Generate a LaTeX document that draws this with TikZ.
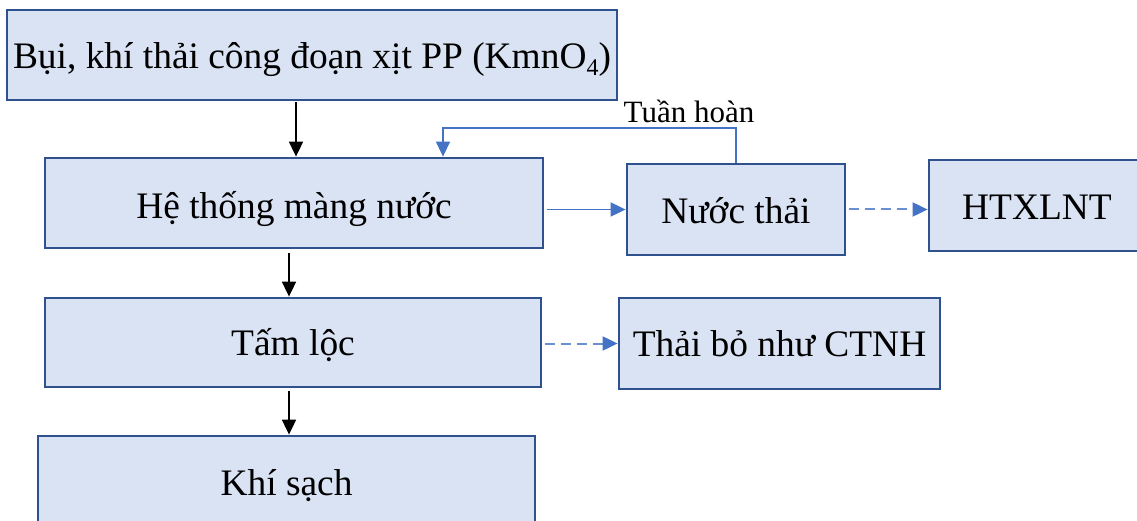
\documentclass[tikz,border=0pt]{standalone}
\usepackage{fontspec}
\setmainfont{Liberation Serif}
\usetikzlibrary{arrows.meta}
\definecolor{boxline}{HTML}{2F528F}
\definecolor{boxfill}{HTML}{DAE3F3}
\definecolor{flow}{HTML}{4472C4}
\definecolor{flowlight}{HTML}{6A8FD4}
\newcommand{\lowsub}[1]{\raisebox{-0.18em}{\fontsize{24}{24}\selectfont #1}}
\tikzset{
  stage/.style={draw=boxline, fill=boxfill, line width=2.8pt, inner sep=0pt,
    font=\fontsize{37.4}{44}\selectfont, text=black, text depth=0pt},
  blk/.style={draw=black, line width=1.8pt, -{Triangle[length=15pt,width=14pt]}},
  blu/.style={draw=flow, line width=1.8pt, -{Triangle[length=15pt,width=14pt]}, shorten <=3pt},
  bludash/.style={draw=flowlight, line width=2pt, dash pattern=on 10pt off 6pt,
    -{Triangle[length=15pt,width=14pt,color=flow]}, shorten <=3pt},
}
\begin{document}
\begin{tikzpicture}[x=1pt,y=-1pt]
\useasboundingbox (0,0) rectangle (1137,521);
\clip (0,0) rectangle (1137,521);
% process chain
\node[stage, text height=26.6pt, minimum width=610pt, minimum height=90pt] (b1) at (312,55)
  {Bụi, khí thải công đoạn xịt PP (KmnO\lowsub{4})};
\node[stage, text height=30.6pt, minimum width=498pt, minimum height=90pt] (b2) at (294,203) {Hệ thống màng nước};
\node[stage, text height=25pt, minimum width=496pt, minimum height=89pt] (b3) at (293,342.5) {Tấm lộc};
\node[stage, text height=24pt, minimum width=497pt, minimum height=94pt] (b4) at (286.5,483) {Khí sạch};
% side streams
\node[stage, text height=27.6pt, minimum width=218pt, minimum height=91pt] (nt) at (736,209.5) {Nước thải};
\node[stage, text height=29pt, minimum width=216pt, minimum height=91pt] (ht) at (1037,205.5) {HTXLNT};
\node[stage, text height=26.4pt, minimum width=321pt, minimum height=91pt] (ct) at (779.5,343.5) {Thải bỏ như CTNH};
% main flow
\draw[blk, shorten <=1pt] ([xshift=2pt]b2.north |- b1.south) -- ([xshift=2pt]b2.north);
\draw[blk, shorten <=4pt] (b2.south -| 289,0) -- (b3.north -| 289,0);
\draw[blk, shorten <=3pt] (b3.south -| 289,0) -- (b4.north -| 289,0);
% water and waste streams
\draw[blu] (b2.east |- nt.west) -- (nt.west);
\draw[bludash] (nt.east) -- (nt.east -| ht.west);
\draw[bludash] (b3.east |- ct.west) -- (ct.west);
% recirculation loop
\coordinate (loopc) at (443,128);
\draw[blu, line width=1.5pt, shorten <=0pt] (nt.north) |- (loopc) -- (loopc |- b2.north);
\node[font=\fontsize{31}{36}\selectfont, inner sep=0pt] (lbl) at (689,111) {Tuần hoàn};
\end{tikzpicture}
\end{document}
